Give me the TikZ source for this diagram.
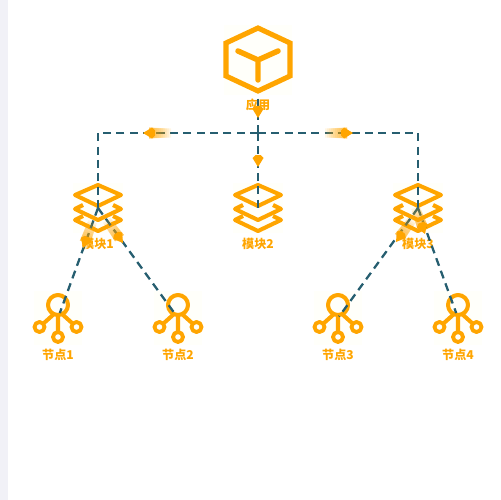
\documentclass[tikz,border=0pt]{standalone}
\usepackage{fontspec}
\setmainfont{Noto Sans CJK SC}
\usetikzlibrary{arrows.meta, positioning}
\definecolor{cIcon}{HTML}{FFA500}
\definecolor{cLink}{HTML}{265E70}
\definecolor{cTint}{HTML}{FFFFFA}
\definecolor{cStrip}{HTML}{F1F1F7}
\newcommand{\markhead}{\fill[cIcon] (0,0) -- (-9,-5.5) -- (-12,-2.5) -- (-12,2.5) -- (-9,5.5) -- cycle;}
\tikzset{
  iconbox/.style={rectangle, fill=cTint, inner sep=0pt},
  lab/.style={font=\fontsize{6.9}{7}\selectfont\bfseries, text=cIcon, inner sep=0pt},
  link/.style={line width=1.3pt, draw=cLink, dash pattern=on 4.6pt off 3pt},
  ico/.style={line width=2.3pt, draw=cIcon, line join=round},
  cubeicon/.pic={
    \draw[ico, line width=2.9pt, line join=miter] (0,-32) -- (32,-17) -- (32,16) -- (0,31) -- (-32,16) -- (-32,-17) -- cycle;
    \draw[ico, line width=3.1pt, line cap=round] (-20,-9) -- (0,0) -- (20,-9) (0,0) -- (0,20);
  },
  stackicon/.pic={
    \draw[ico] (-23,-13) -- (0,-23) -- (23,-13) -- (0,-2) -- cycle;
    \draw[ico] (-15,-3) -- (-23,1) -- (0,12) -- (23,1) -- (15,-3);
    \draw[ico] (-15,8) -- (-23,12) -- (0,23) -- (23,12) -- (15,8);
  },
  hubicon/.pic={
    \draw[ico] (0,-13) circle (10);
    \draw[ico] (0,-3) -- (0,14) (-4,-4) -- (-14,5) (4,-4) -- (14,5);
    \draw[ico, line width=2.2pt] (0,19) circle (5) (-18.5,9) circle (5) (18.5,9) circle (5);
  },
  headicon/.pic={\markhead},
  cometicon/.pic={
    \foreach \l in {10,12,...,28}
      \fill[cIcon, opacity=0.1] (-6,-5.5) -- (-\l,-4.5) -- (-\l,4.5) -- (-6,5.5) -- cycle;
    \markhead
  },
}
\begin{document}
\begin{tikzpicture}[x=0.02cm, y=-0.02cm]
  \useasboundingbox (0,0) rectangle (500,500);
  \fill[cStrip] (0,0) rectangle (8,500);

  % ---- icons and their labels
  \node[iconbox, minimum width=1.36cm, minimum height=1.4cm] (app) at (258,60) {};
  \pic at (app) {cubeicon};
  \node[lab] (appLab) at (258,105) {应用};
  \foreach \i/\x in {1/98, 2/258, 3/418} {
    \node[iconbox, minimum width=1cm, minimum height=1cm] (mod\i) at (\x,208) {};
    \pic at (mod\i) {stackicon};
    \node[lab] (modLab\i) at (\x,244) {模块\i};
  }
  \foreach \i/\x in {1/58, 2/178, 3/338, 4/458} {
    \node[iconbox, minimum width=0.96cm, minimum height=1.1cm] (hub\i) at (\x,318) {};
    \pic at (hub\i) {hubicon};
    \node[lab] (hubLab\i) at (\x,355) {节点\i};
  }

  % ---- connectors
  \coordinate (bus) at (258,133);
  \coordinate (busL) at (98,133);
  \coordinate (busR) at (418,133);
  \draw[link] (appLab.north) -- (bus);
  \draw[link] (bus) -- (busL) -- (mod1.center);
  \draw[link] (bus) -- (mod2.center);
  \draw[link] (bus) -- (busR) -- (mod3.center);
  \draw[link, shorten >=3pt] (mod1.center) -- (hub1.center);
  \draw[link, shorten >=3pt] (mod1.center) -- (hub2.center);
  \draw[link, shorten >=1pt] (mod3.center) -- (hub3.center);
  \draw[link, shorten >=3pt] (mod3.center) -- (hub4.center);

  % ---- moving markers
  \foreach \x/\y/\a in {143/133/180, 353/133/0, 83/248/-110, 123/243/-54,
                        396/242/-126, 425/234/-70}
    \pic[rotate=\a] at (\x,\y) {cometicon};
  \foreach \y in {118,167}
    \pic[rotate=-90] at (258,\y) {headicon};
\end{tikzpicture}
\end{document}
